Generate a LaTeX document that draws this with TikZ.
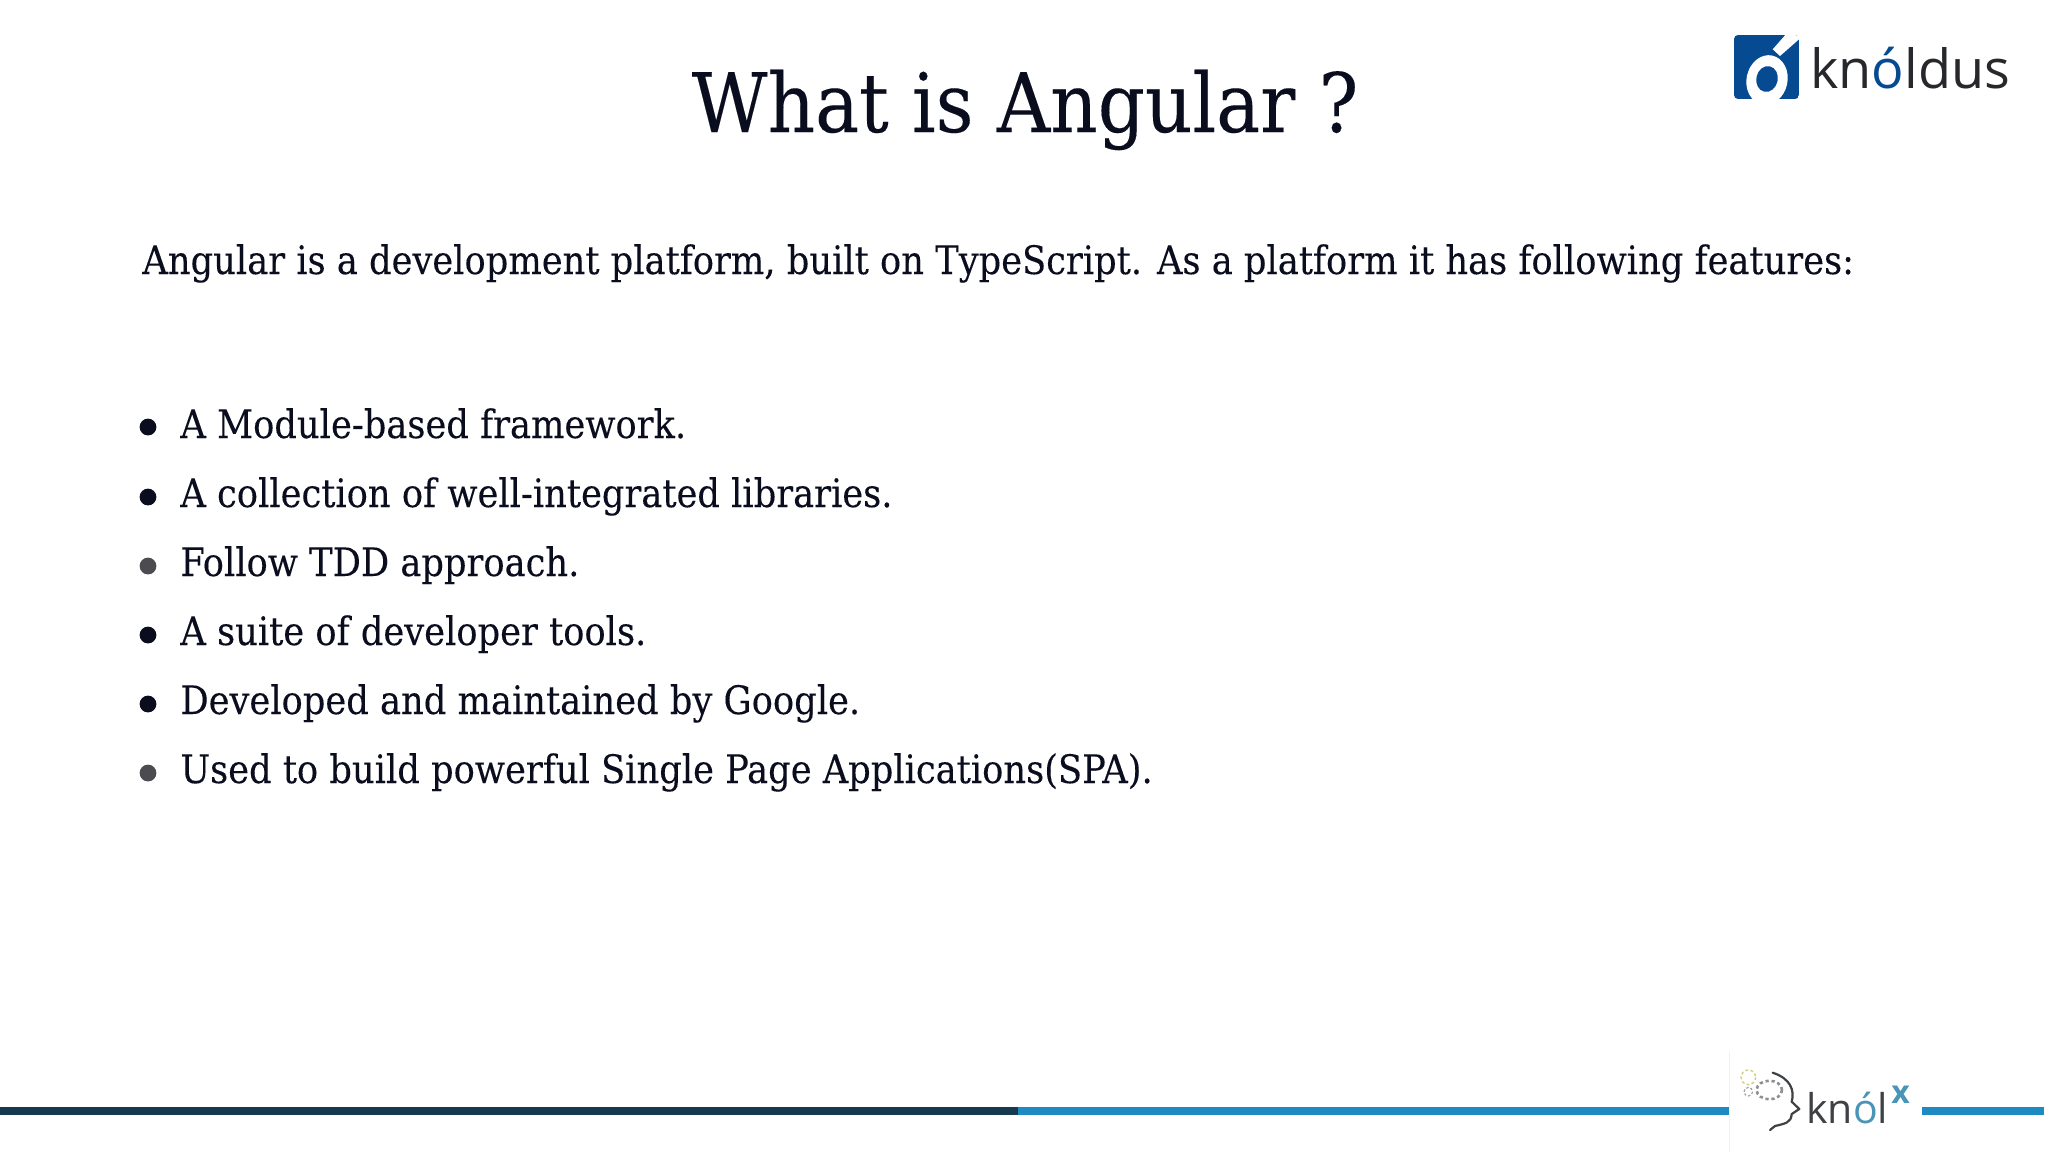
\documentclass[tikz,border=0pt]{standalone}
\usepackage{fontspec}
\setmainfont[FakeBold=0.15]{DejaVu Serif Condensed}
\newfontfamily\logofont{Open Sans}
\usetikzlibrary{positioning}
\definecolor{inkdark}{HTML}{0A0D1E}
\definecolor{inkgray}{HTML}{4C4C50}
\definecolor{bardark}{HTML}{163B50}
\definecolor{barblue}{HTML}{1E8AC2}
\definecolor{logoblue}{HTML}{064A91}
\definecolor{logotext}{HTML}{26282B}
\definecolor{knolblue}{HTML}{4A94B8}
\definecolor{knolgray}{HTML}{3F4245}
\tikzset{
  linetext/.style={anchor=base west,inner sep=0pt,text=inkdark,font=\fontsize{19.6}{24}\selectfont},
  dotmark/.style={circle,fill=inkdark,inner sep=0pt,minimum size=8.4pt},
  graymark/.style={dotmark,fill=inkgray},
}
\begin{document}
\begin{tikzpicture}[x=0.5pt,y=-0.5pt]
  \useasboundingbox (0,0) rectangle (2048,1152);
  \fill [white] (0,0) rectangle (2048,1152);

  \node (title) [anchor=base,inner sep=0pt,text=inkdark,font=\fontsize{41}{48}\selectfont] at (1025,132) {What is Angular ?};
  \node (intro) [linetext] at (142,274) {Angular is a development platform, built on TypeScript. As a platform it has following features:};

  \node (bul1) [dotmark] at (148,427) {};
  \node (bul2) [dotmark] at (148,497) {};
  \node (bul3) [graymark] at (148,566) {};
  \node (bul4) [dotmark] at (148,635) {};
  \node (bul5) [dotmark] at (148,704) {};
  \node (bul6) [graymark] at (148,773) {};
  \node (item1) [linetext] at (180,438) {A Module-based framework.};
  \node (item2) [linetext] at (180,507) {A collection of well-integrated libraries.};
  \node (item3) [linetext] at (180,576) {Follow TDD approach.};
  \node (item4) [linetext] at (180,645) {A suite of developer tools.};
  \node (item5) [linetext] at (180,714) {Developed and maintained by Google.};
  \node (item6) [linetext] at (180,783) {Used to build powerful Single Page Applications(SPA).};

  \fill [bardark] (0,1107) rectangle (1018,1115);
  \fill [barblue] (1018,1107) rectangle (1729,1115);
  \fill [barblue] (1922,1107) rectangle (2044,1115);
  \draw [black!6,line width=0.5pt] (1729,1052) -- (1729,1152);

  \begin{scope}
    \clip [rounded corners=2pt] (1734,35) rectangle (1799,99);
    \fill [logoblue] (1734,35) rectangle (1799,99);
    \fill [white,rotate around={-12:(1767,80)}] (1767,80) ellipse (20.5 and 25);
    \fill [logoblue,rotate around={-12:(1767,79)}] (1767,79) ellipse (10.7 and 13);
    \fill [white] (1772.7,49.3) -- (1785.3,35) -- (1799,35) -- (1799,39.3) -- (1780,56) -- cycle;
  \end{scope}
  \node (knoldus) [anchor=base west,inner sep=0pt,text=logotext,font=\logofont\fontsize{27}{33}\selectfont] at (1810,88) {kn\textcolor{logoblue}{ó}ldus};

  \draw [knolgray!60,dashed,line width=1.3pt,dash pattern=on 1.6pt off 1.4pt] (1769.3,1090) ellipse (12.7 and 9.3);
  \draw [knolgray!50,dashed,line width=0.6pt,dash pattern=on 1.2pt off 1pt] (1748.3,1091.7) circle (4.3);
  \draw [olive!40,dashed,line width=0.7pt,dash pattern=on 1.4pt off 1.2pt] (1748.3,1077.3) circle (7.3);
  \draw [knolgray,line width=1.1pt,line cap=round,line join=round] (1772.7,1072.7) .. controls (1790,1078.3) and (1795,1090) .. (1791.7,1101.7) -- (1799.3,1109) -- (1791.7,1114) .. controls (1791,1123) and (1785,1123.5) .. (1775,1126) -- (1770,1130);
  \node (knol) [anchor=base west,inner sep=0pt,text=knolgray,font=\logofont\fontsize{20.5}{24}\selectfont] at (1806,1123) {kn\textcolor{knolblue}{ó}l};
  \node (knolx) [anchor=base west,inner sep=0pt,text=knolblue,font=\logofont\bfseries\fontsize{16}{18}\selectfont] at (1891,1103) {x};
\end{tikzpicture}
\end{document}
